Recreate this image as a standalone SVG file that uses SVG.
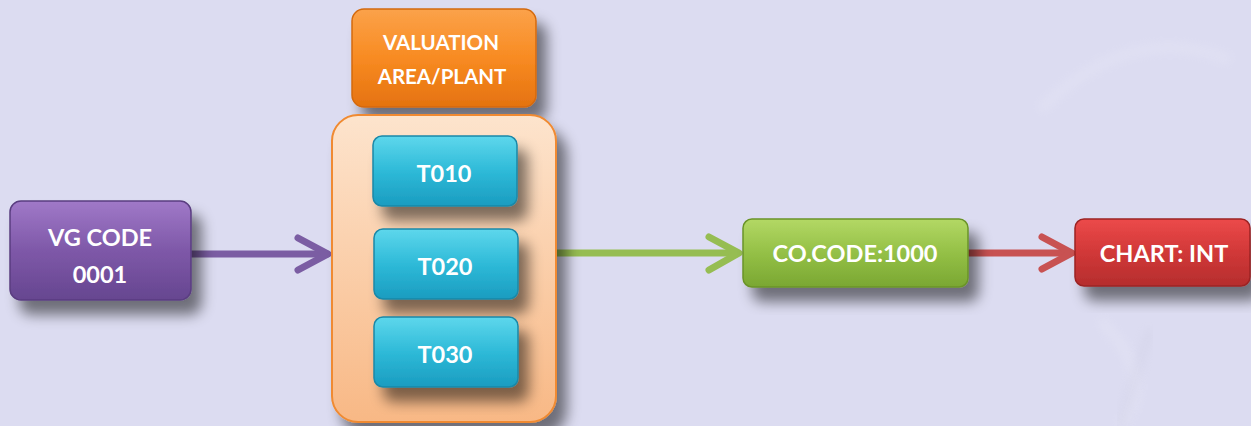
<svg xmlns="http://www.w3.org/2000/svg" width="1251" height="426" viewBox="0 0 1251 426">
<style>
.lbl{font-family:Lato,"Open Sans","Liberation Sans",sans-serif;font-weight:700;font-size:23.5px;fill:#ffffff;text-anchor:middle}
.sm{font-size:20.5px}
.conn{fill:none;stroke-width:7;stroke-linecap:round;stroke-linejoin:round}
</style>
<defs>
<filter id="sh" x="-20%" y="-20%" width="150%" height="160%">
<feGaussianBlur in="SourceAlpha" stdDeviation="7"/>
<feOffset dx="10" dy="14" result="b"/>
<feComponentTransfer><feFuncA type="linear" slope="0.5"/></feComponentTransfer>
<feMerge><feMergeNode/><feMergeNode in="SourceGraphic"/></feMerge>
</filter>
<filter id="wm" x="-10%" y="-10%" width="120%" height="120%"><feGaussianBlur stdDeviation="5"/></filter>
<linearGradient id="gP" x1="0" y1="0" x2="0" y2="1"><stop offset="0" stop-color="#a079c8"/><stop offset="0.5" stop-color="#7e58a8"/><stop offset="1" stop-color="#664690"/></linearGradient>
<linearGradient id="gO" x1="0" y1="0" x2="0" y2="1"><stop offset="0" stop-color="#fba24a"/><stop offset="0.5" stop-color="#f88b22"/><stop offset="1" stop-color="#e5720f"/></linearGradient>
<linearGradient id="gC" x1="0" y1="0" x2="0" y2="1"><stop offset="0" stop-color="#fde4cd"/><stop offset="1" stop-color="#f8b885"/></linearGradient>
<linearGradient id="gT" x1="0" y1="0" x2="0" y2="1"><stop offset="0" stop-color="#5ed7ec"/><stop offset="0.5" stop-color="#2ebad8"/><stop offset="1" stop-color="#1a9cc0"/></linearGradient>
<linearGradient id="gG" x1="0" y1="0" x2="0" y2="1"><stop offset="0" stop-color="#b3d865"/><stop offset="0.5" stop-color="#94c046"/><stop offset="1" stop-color="#7aa732"/></linearGradient>
<linearGradient id="gR" x1="0" y1="0" x2="0" y2="1"><stop offset="0" stop-color="#ec4a4a"/><stop offset="0.5" stop-color="#d13838"/><stop offset="1" stop-color="#b52d2d"/></linearGradient>
</defs>
<rect width="1251" height="426" fill="#dcdcf1"/>
<g opacity="0.2" filter="url(#wm)" fill="none" stroke="#f2f2fb" stroke-width="10">
<path d="M1040 110 Q1130 20 1230 60"/>
<path d="M1100 320 Q1160 380 1120 426"/>
</g>
<g opacity="0.15" filter="url(#wm)" fill="none" stroke="#b8b8cc" stroke-width="8">
<path d="M1150 330 L1120 426"/>
</g>

<g id="connectors">
<g id="c1"><path class="conn" stroke="#7b5da3" d="M190 254 H327"/><path class="conn" stroke="#7b5da3" d="M298 238 L328 254 L298 270"/></g>
<g id="c2"><path class="conn" stroke="#96bd52" d="M556 253 H737"/><path class="conn" stroke="#96bd52" d="M709 237 L739 253 L709 270"/></g>
<g id="c3"><path class="conn" stroke="#c85252" d="M968 253 H1070"/><path class="conn" stroke="#c85252" d="M1042 237 L1072 253 L1042 269"/></g>
</g>

<g id="vg">
<rect x="10" y="201" width="181" height="99" rx="11" fill="url(#gP)" stroke="#5a3d80" stroke-width="1.5" filter="url(#sh)"/>
<text class="lbl" x="100" y="246">VG CODE</text>
<text class="lbl" x="100" y="283">0001</text>
</g>

<g id="valuation">
<rect x="352" y="9" width="184" height="98" rx="12" fill="url(#gO)" stroke="#d4690e" stroke-width="1.5" filter="url(#sh)"/>
<text class="lbl sm" x="441" y="50">VALUATION</text>
<text class="lbl sm" x="442" y="84">AREA/PLANT</text>
</g>

<g id="container">
<rect x="332" y="115" width="224" height="307" rx="26" fill="url(#gC)" stroke="#f08a30" stroke-width="2" filter="url(#sh)"/>
</g>

<g id="t010">
<rect x="373" y="136" width="144" height="70" rx="9" fill="url(#gT)" stroke="#1a88a8" stroke-width="1.5" filter="url(#sh)"/>
<text class="lbl" x="444" y="182">T010</text>
</g>
<g id="t020">
<rect x="374" y="229" width="144" height="70" rx="9" fill="url(#gT)" stroke="#1a88a8" stroke-width="1.5" filter="url(#sh)"/>
<text class="lbl" x="445" y="275">T020</text>
</g>
<g id="t030">
<rect x="374" y="317" width="144" height="70" rx="9" fill="url(#gT)" stroke="#1a88a8" stroke-width="1.5" filter="url(#sh)"/>
<text class="lbl" x="445" y="363">T030</text>
</g>

<g id="cocode">
<rect x="743" y="219" width="225" height="68" rx="9" fill="url(#gG)" stroke="#6a9428" stroke-width="1.5" filter="url(#sh)"/>
<text class="lbl" x="855" y="262">CO.CODE:1000</text>
</g>

<g id="chart">
<rect x="1075" y="219" width="175" height="67" rx="9" fill="url(#gR)" stroke="#9c2424" stroke-width="1.5" filter="url(#sh)"/>
<text class="lbl" x="1164" y="262">CHART: INT</text>
</g>
</svg>
